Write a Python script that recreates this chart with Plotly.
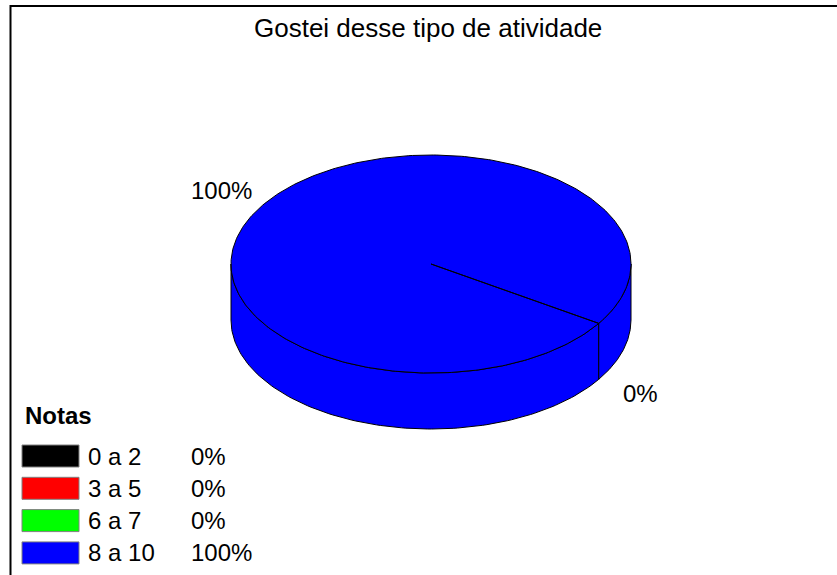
import numpy as np
import plotly.graph_objects as go

# ---- data ----
title = "Gostei desse tipo de atividade"
legend_title = "Notas"
categories = ["0 a 2", "3 a 5", "6 a 7", "8 a 10"]
values = [0, 0, 0, 100]
colors = ["#000000", "#FF0000", "#00FF00", "#0000FF"]

# ---- geometry (pixel space) ----
W, H = 837, 575
cx, cy, rx, ry, depth = 431, 264, 200, 109, 56
start_deg = 33.0
FONT = "Liberation Sans, Arial, sans-serif"

total = float(sum(values))
pcts = [v / total * 100 for v in values]

fig = go.Figure()


def ell(t_deg, dy=0.0):
    t = np.radians(t_deg)
    return cx + rx * np.cos(t), cy + ry * np.sin(t) + dy


slices = []
cum = 0.0
for v in values:
    a0 = start_deg + cum / total * 360
    a1 = a0 + v / total * 360
    slices.append((a0, a1))
    cum += v

# side walls (front half only)
for (a0, a1), v, c in zip(slices, values, colors):
    if v <= 0:
        continue
    for k in range(0, 3):
        lo = max(a0, k * 360)
        hi = min(a1, k * 360 + 180)
        if hi <= lo:
            continue
        t = np.linspace(lo, hi, 120)
        xt, yt = ell(t)
        xb, yb = ell(t[::-1], depth)
        xs = np.concatenate([xt, xb, xt[:1]])
        ys = np.concatenate([yt, yb, yt[:1]])
        fig.add_trace(go.Scatter(x=xs, y=ys, mode="lines", fill="toself",
                                 fillcolor=c, line=dict(color="#000000", width=1),
                                 hoverinfo="skip", showlegend=False))

# top faces
for (a0, a1), v, c in zip(slices, values, colors):
    if v <= 0:
        continue
    t = np.linspace(a0, a1, 360)
    xa, ya = ell(t)
    xs = np.concatenate([[cx], xa, [cx]])
    ys = np.concatenate([[cy], ya, [cy]])
    fig.add_trace(go.Scatter(x=xs, y=ys, mode="lines", fill="toself",
                             fillcolor=c, line=dict(color="#000000", width=1),
                             hoverinfo="skip", showlegend=False))

# percentage labels around the pie
placed = set()
for (a0, a1), p in zip(slices, pcts):
    mid = (a0 + a1) / 2
    key = round(mid % 360, 3)
    if key in placed:
        continue
    placed.add(key)
    t = np.radians(mid)
    lx = cx + rx * 1.25 * np.cos(t)
    ly = cy + ry * 1.23 * np.sin(t) + (depth if np.sin(t) > 0 else 0)
    fig.add_annotation(x=lx, y=ly, text=f"{p:.0f}%", showarrow=False,
                       xanchor="center", yanchor="middle",
                       font=dict(family=FONT, size=24, color="#000000"))

# legend
fig.add_annotation(x=23, y=415, text=f"<b>{legend_title}</b>", showarrow=False,
                   xanchor="left", yanchor="middle",
                   font=dict(family=FONT, size=24, color="#000000"))
for i, (cat, p, c) in enumerate(zip(categories, pcts, colors)):
    yc = 456 + i * 32.3
    fig.add_shape(type="rect", x0=22, x1=79, y0=yc - 11, y1=yc + 11,
                  fillcolor=c, line=dict(color="#808080", width=1))
    fig.add_annotation(x=86, y=yc, text=cat, showarrow=False, xanchor="left",
                       yanchor="middle", font=dict(family=FONT, size=24, color="#000000"))
    fig.add_annotation(x=189, y=yc, text=f"{p:.0f}%", showarrow=False, xanchor="left",
                       yanchor="middle", font=dict(family=FONT, size=24, color="#000000"))

# title
fig.add_annotation(x=428, y=28, text=title, showarrow=False, xanchor="center",
                   yanchor="middle", font=dict(family=FONT, size=26, color="#000000"))

# frame
fig.add_shape(type="rect", x0=10.5, x1=W + 5, y0=6, y1=H + 5,
              line=dict(color="#000000", width=2), fillcolor="rgba(0,0,0,0)")

fig.update_layout(
    width=W, height=H, margin=dict(l=0, r=0, t=0, b=0),
    paper_bgcolor="#FFFFFF", plot_bgcolor="#FFFFFF",
    xaxis=dict(range=[0, W], visible=False, fixedrange=True),
    yaxis=dict(range=[H, 0], visible=False, fixedrange=True),
    showlegend=False,
)

fig.write_html("out.html")
